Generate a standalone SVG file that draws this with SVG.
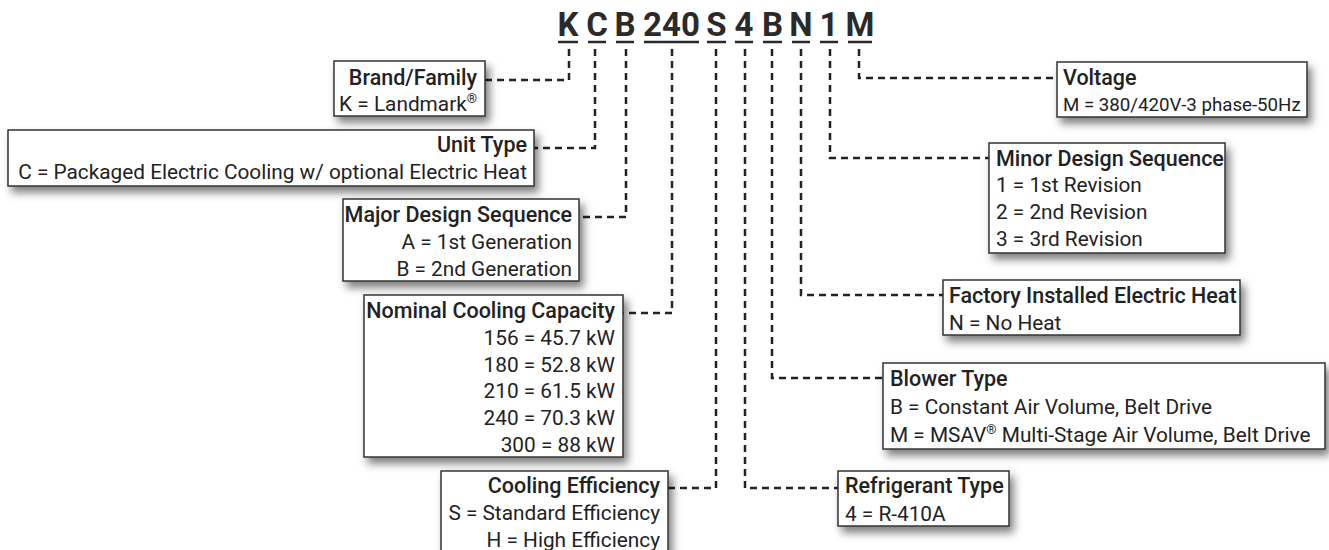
<svg xmlns="http://www.w3.org/2000/svg" width="1329" height="550" viewBox="0 0 1329 550">
<defs>
<filter id="sh" x="-10%" y="-20%" width="130%" height="160%">
<feDropShadow dx="4" dy="6" stdDeviation="4" flood-color="#000" flood-opacity="0.5"/>
</filter>
<style>
.box{fill:#fff;stroke:#333;stroke-width:1.5;filter:url(#sh)}
.t{font-family:Roboto,"Liberation Sans",sans-serif;font-size:20.8px;fill:#222}
.h{font-weight:500;font-size:21.5px}
.sm{font-size:18.7px}
.e{text-anchor:end}
.code{font-family:Roboto,"Liberation Sans",sans-serif;font-size:33px;font-weight:700;fill:#2a2a2a;text-anchor:middle}
.ul{stroke:#2a2a2a;stroke-width:2.5}
.c{fill:none;stroke:#222;stroke-width:2.5;stroke-dasharray:7 5}
</style>
</defs>
<rect width="1329" height="550" fill="#fff"/>
<g id="code">
<text class="code" x="568" y="36">K</text>
<text class="code" x="597" y="36">C</text>
<text class="code" x="625" y="36">B</text>
<text class="code" x="671.5" y="36">240</text>
<text class="code" x="716.5" y="36">S</text>
<text class="code" x="744" y="36">4</text>
<text class="code" x="772.5" y="36">B</text>
<text class="code" x="801" y="36">N</text>
<text class="code" x="829" y="36">1</text>
<text class="code" x="860" y="36">M</text>
<line class="ul" x1="558" y1="42" x2="578" y2="42"/>
<line class="ul" x1="588" y1="42" x2="606" y2="42"/>
<line class="ul" x1="616" y1="42" x2="634" y2="42"/>
<line class="ul" x1="644" y1="42" x2="699" y2="42"/>
<line class="ul" x1="707" y1="42" x2="726" y2="42"/>
<line class="ul" x1="735" y1="42" x2="753" y2="42"/>
<line class="ul" x1="763" y1="42" x2="782" y2="42"/>
<line class="ul" x1="792" y1="42" x2="810" y2="42"/>
<line class="ul" x1="820" y1="42" x2="838" y2="42"/>
<line class="ul" x1="848" y1="42" x2="872" y2="42"/>
</g>
<g id="connectors">
<path class="c" d="M569,49 V80 H485"/>
<path class="c" d="M595,49 V148 H534"/>
<path class="c" d="M626,49 V217 H579"/>
<path class="c" d="M672,49 V313 H623"/>
<path class="c" d="M716,49 V488 H668"/>
<path class="c" d="M745,49 V488 H838"/>
<path class="c" d="M772,49 V378 H883"/>
<path class="c" d="M801,49 V295 H943"/>
<path class="c" d="M830,49 V158 H989"/>
<path class="c" d="M859,49 V78 H1057"/>
</g>
<g id="brand">
<rect class="box" x="334" y="61" width="151" height="55"/>
<text class="t h e" x="477" y="85">Brand/Family</text>
<text class="t e" x="477" y="111">K = Landmark<tspan font-size="13" dy="-8">®</tspan></text>
</g>
<g id="unit-type">
<rect class="box" x="8" y="130" width="526" height="56"/>
<text class="t h e" x="527" y="152">Unit Type</text>
<text class="t e" x="527" y="179">C = Packaged Electric Cooling w/ optional Electric Heat</text>
</g>
<g id="major">
<rect class="box" x="343" y="199" width="236" height="82"/>
<text class="t h e" x="572" y="222">Major Design Sequence</text>
<text class="t e" x="572" y="249">A = 1st Generation</text>
<text class="t e" x="572" y="276">B = 2nd Generation</text>
</g>
<g id="nominal">
<rect class="box" x="364" y="295" width="259" height="162"/>
<text class="t h e" x="615" y="318">Nominal Cooling Capacity</text>
<text class="t e" x="615" y="345">156 = 45.7 kW</text>
<text class="t e" x="615" y="372">180 = 52.8 kW</text>
<text class="t e" x="615" y="398">210 = 61.5 kW</text>
<text class="t e" x="615" y="425">240 = 70.3 kW</text>
<text class="t e" x="615" y="452">300 = 88 kW</text>
</g>
<g id="cooling-eff">
<rect class="box" x="441" y="471" width="227" height="90"/>
<text class="t h e" x="660" y="493">Cooling Efficiency</text>
<text class="t e" x="660" y="520">S = Standard Efficiency</text>
<text class="t e" x="660" y="547">H = High Efficiency</text>
</g>
<g id="voltage">
<rect class="box" x="1057" y="62" width="250" height="55"/>
<text class="t h" x="1063" y="85">Voltage</text>
<text class="t sm" x="1063" y="111">M = 380/420V-3 phase-50Hz</text>
</g>
<g id="minor">
<rect class="box" x="989" y="143" width="236" height="110"/>
<text class="t h" x="996" y="166">Minor Design Sequence</text>
<text class="t" x="996" y="192">1 = 1st Revision</text>
<text class="t" x="996" y="219">2 = 2nd Revision</text>
<text class="t" x="996" y="246">3 = 3rd Revision</text>
</g>
<g id="factory">
<rect class="box" x="943" y="280" width="297" height="55"/>
<text class="t h" x="949" y="303">Factory Installed Electric Heat</text>
<text class="t" x="949" y="330">N = No Heat</text>
</g>
<g id="blower">
<rect class="box" x="883" y="363" width="442" height="86"/>
<text class="t h" x="890" y="386">Blower Type</text>
<text class="t" x="890" y="414">B = Constant Air Volume, Belt Drive</text>
<text class="t" x="890" y="442">M = MSAV<tspan font-size="13" dy="-8">®</tspan><tspan dy="8"> Multi-Stage Air Volume, Belt Drive</tspan></text>
</g>
<g id="refrigerant">
<rect class="box" x="838" y="471" width="171" height="55"/>
<text class="t h" x="845" y="493">Refrigerant Type</text>
<text class="t" x="845" y="521">4 = R-410A</text>
</g>
</svg>
